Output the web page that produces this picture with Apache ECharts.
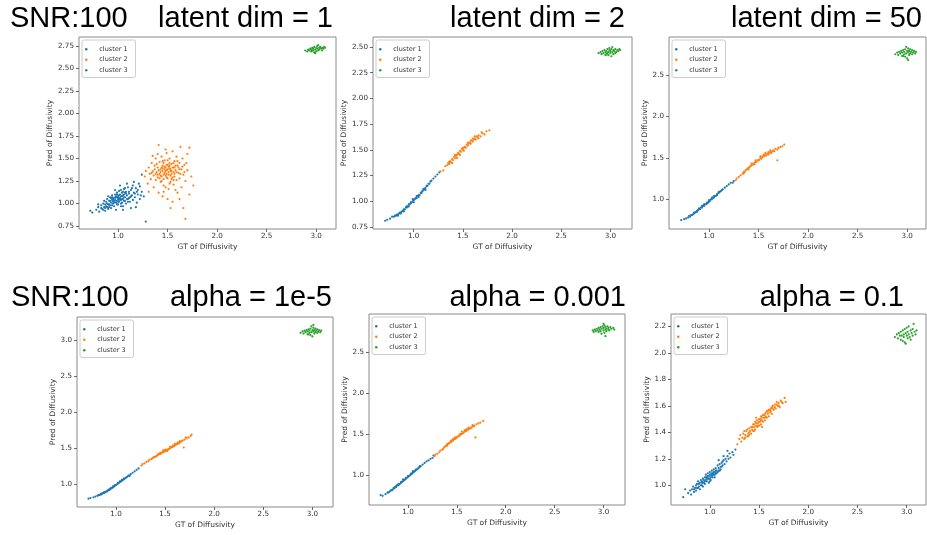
<!DOCTYPE html>
<html><head><meta charset="utf-8">
<script src="https://cdn.jsdelivr.net/npm/echarts@6/dist/echarts.min.js"></script>
<style>html,body{margin:0;padding:0;background:#fff}#c{width:927px;height:535px}</style>
</head><body><div id="c"></div>
<script>
// ---- text ----
const seriesNames = ['cluster 1','cluster 2','cluster 3'];
const rowLeftTitle = 'SNR:100';
const panelTitles = ['latent dim = 1','latent dim = 2','latent dim = 50','alpha = 1e-5','alpha = 0.001','alpha = 0.1'];
const xName = 'GT of Diffusivity';
const yName = 'Pred of Diffusivity';
// ---- ticks ----
const xTicks = [1.0,1.5,2.0,2.5,3.0];
const yTicksP1 = [0.75,1.0,1.25,1.5,1.75,2.0,2.25,2.5,2.75];
const yTicksP2 = [0.75,1.0,1.25,1.5,1.75,2.0,2.25,2.5];
const yTicksP3 = [1.0,1.5,2.0,2.5];
const yTicksP4 = [1.0,1.5,2.0,2.5,3.0];
const yTicksP5 = [1.0,1.5,2.0,2.5];
const yTicksP6 = [1.0,1.2,1.4,1.6,1.8,2.0,2.2];
// ---- data: panel 1 (latent dim = 1) ----
const p1c1 = [[0.72,0.92],[0.74,0.90],[0.78,0.93],[0.80,0.96],[0.81,0.91],[0.83,0.98],[0.84,0.94],[0.85,1.00],[0.86,0.96],[0.87,0.92],[0.88,1.02],[0.88,0.97],[0.89,1.05],[0.90,0.99],[0.90,0.94],[0.91,1.03],[0.92,1.07],[0.92,0.98],[0.93,1.01],[0.93,0.95],[0.94,1.04],[0.94,1.09],[0.95,1.00],[0.95,1.06],[0.96,0.97],[0.96,1.03],[0.97,1.10],[0.97,1.05],[0.98,1.01],[0.98,0.93],[0.99,1.07],[0.99,1.12],[1.00,1.04],[1.00,0.99],[1.00,1.08],[1.01,1.02],[1.01,1.14],[1.02,1.06],[1.02,1.10],[1.03,1.00],[1.03,1.04],[1.04,1.08],[1.04,1.12],[1.05,1.05],[1.05,0.97],[1.06,1.10],[1.06,1.16],[1.07,1.03],[1.07,1.07],[1.08,1.13],[1.08,1.00],[1.09,1.09],[1.10,1.05],[1.10,1.18],[1.11,1.11],[1.12,1.02],[1.12,1.07],[1.13,1.15],[1.14,1.09],[1.15,1.20],[1.15,1.04],[1.16,1.12],[1.17,1.07],[1.18,1.17],[1.19,1.01],[1.20,1.10],[1.21,1.22],[1.22,1.05],[1.24,1.13],[1.26,1.08],[1.28,0.80],[1.05,0.93],[0.97,1.15],[1.09,1.22],[1.13,0.95],[0.90,1.08],[1.02,1.20],[1.16,1.24],[0.86,1.03],[1.18,0.96],[1.24,1.32],[0.95,1.02],[1.00,1.06],[1.04,1.01],[0.98,1.08],[1.07,1.12],[0.93,1.06],[1.11,1.06],[0.89,1.00],[1.03,1.15],
  [0.83,0.95],[0.85,0.93],[0.87,0.99],[0.89,0.96],[0.91,0.99],[0.92,1.03],[0.94,0.98],[0.95,1.04],[0.96,1.01],[0.97,1.07],[0.98,1.03],[0.99,0.99],[1.00,1.02],[1.01,1.06],[1.01,1.09],[1.02,1.04],[1.03,1.08],[1.04,1.05],[1.05,1.09],[1.06,1.07],[1.06,1.03],[1.08,1.11],[1.09,1.05],[1.11,1.13],[1.13,1.08],[1.14,1.17],[1.17,1.11],[1.20,1.15],[1.22,1.19],[0.99,1.10],[1.05,1.13],[0.94,1.07],[1.03,0.97],[0.91,0.96],[1.10,1.02],[0.80,0.99],[0.87,0.95],[1.19,1.13],[1.23,1.09],[1.07,1.17]];
const p1c2 = [[1.27,1.30],[1.28,1.36],[1.30,1.22],[1.31,1.40],[1.32,1.33],[1.33,1.27],[1.34,1.45],[1.35,1.36],[1.36,1.18],[1.36,1.31],[1.37,1.42],[1.38,1.26],[1.38,1.50],[1.39,1.35],[1.40,1.29],[1.40,1.40],[1.41,1.65],[1.41,1.12],[1.42,1.33],[1.42,1.46],[1.43,1.38],[1.43,1.24],[1.44,1.30],[1.44,1.52],[1.45,1.36],[1.45,1.42],[1.46,1.27],[1.46,1.20],[1.47,1.34],[1.47,1.48],[1.48,1.40],[1.48,1.31],[1.49,1.37],[1.49,1.56],[1.50,1.28],[1.50,1.43],[1.50,1.05],[1.51,1.35],[1.51,1.16],[1.52,1.39],[1.52,1.50],[1.53,1.31],[1.53,1.24],[1.54,1.44],[1.54,1.36],[1.55,1.58],[1.55,1.29],[1.56,1.40],[1.56,1.21],[1.57,1.33],[1.57,1.47],[1.58,1.37],[1.59,1.26],[1.59,1.52],[1.60,1.42],[1.60,1.12],[1.61,1.34],[1.62,1.45],[1.62,1.28],[1.63,1.63],[1.64,1.38],[1.64,1.18],[1.65,1.50],[1.66,1.32],[1.66,0.95],[1.67,1.43],[1.68,0.83],[1.68,1.25],[1.70,1.55],[1.70,1.37],[1.72,1.62],[1.72,1.10],[1.74,1.30],[1.76,1.20],[1.53,0.95],[1.45,1.08],[1.55,1.02],[1.48,1.60],[1.35,1.53],[1.31,1.13],[1.58,1.15],[1.62,1.05],[1.40,1.55],[1.46,1.13],[1.52,1.45],[1.44,1.40],[1.49,1.33],[1.56,1.35],[1.51,1.41],[1.47,1.38],[1.53,1.36],[1.43,1.31],
  [1.38,1.33],[1.41,1.37],[1.43,1.35],[1.45,1.39],[1.46,1.32],[1.47,1.41],[1.48,1.36],[1.49,1.29],[1.50,1.38],[1.51,1.32],[1.52,1.42],[1.53,1.38],[1.54,1.33],[1.55,1.40],[1.56,1.45],[1.57,1.30],[1.58,1.42],[1.59,1.35],[1.61,1.40],[1.63,1.33],[1.46,1.45],[1.50,1.48],[1.44,1.25],[1.54,1.27],[1.39,1.44],[1.60,1.47],[1.65,1.41],[1.42,1.28],[1.34,1.34],[1.67,1.35],[1.52,1.22],[1.48,1.18],[1.57,1.40],[1.45,1.47],[1.62,1.38],[1.37,1.38],[1.40,1.32],[1.69,1.45],[1.56,1.26],[1.49,1.43]];
const p1c3 = [[2.89,2.70],[2.91,2.69],[2.92,2.71],[2.93,2.70],[2.94,2.72],[2.95,2.69],[2.95,2.71],[2.96,2.73],[2.97,2.70],[2.97,2.72],[2.98,2.68],[2.98,2.74],[2.99,2.71],[3.00,2.73],[3.00,2.69],[3.01,2.72],[3.01,2.75],[3.02,2.70],[3.03,2.73],[3.03,2.71],[3.04,2.74],[3.05,2.72],[3.06,2.70],[3.06,2.73],[3.07,2.72],[3.08,2.74],[3.09,2.73],[2.99,2.67],[3.02,2.76],[2.96,2.70]];
// ---- data: panel 2 (latent dim = 2) ----
const p2c1 = [[0.71,0.81],[0.73,0.82],[0.76,0.83],[0.78,0.85],[0.80,0.85],[0.81,0.86],[0.82,0.86],[0.83,0.87],[0.84,0.87],[0.85,0.88],[0.86,0.89],[0.87,0.89],[0.88,0.90],[0.89,0.91],[0.90,0.92],[0.91,0.92],[0.92,0.94],[0.93,0.94],[0.94,0.95],[0.95,0.97],[0.96,0.97],[0.97,0.98],[0.98,0.99],[0.99,1.00],[1.00,1.01],[1.01,1.02],[1.02,1.03],[1.03,1.03],[1.04,1.05],[1.05,1.06],[1.06,1.06],[1.07,1.08],[1.08,1.09],[1.09,1.10],[1.10,1.11],[1.11,1.12],[1.12,1.13],[1.13,1.15],[1.14,1.15],[1.15,1.17],[1.16,1.17],[1.17,1.19],[1.18,1.20],[1.20,1.22],[1.22,1.24],[1.24,1.26],[1.26,1.28],[0.90,0.90],[0.95,0.95],[1.00,0.99],[1.05,1.04],[0.87,0.88],[0.97,0.99],[1.03,1.05],[1.10,1.12],[0.93,0.95],[1.08,1.08],[0.84,0.86],[0.99,1.02],[1.12,1.11]];
const p2c2 = [[1.27,1.29],[1.30,1.30],[1.32,1.34],[1.34,1.35],[1.35,1.37],[1.36,1.36],[1.37,1.39],[1.38,1.38],[1.39,1.41],[1.40,1.40],[1.41,1.43],[1.42,1.42],[1.43,1.44],[1.44,1.45],[1.45,1.47],[1.46,1.46],[1.47,1.49],[1.48,1.48],[1.49,1.51],[1.50,1.50],[1.51,1.52],[1.52,1.53],[1.53,1.52],[1.54,1.55],[1.55,1.54],[1.56,1.56],[1.57,1.57],[1.58,1.56],[1.59,1.59],[1.60,1.58],[1.61,1.60],[1.62,1.61],[1.63,1.60],[1.64,1.63],[1.65,1.62],[1.66,1.64],[1.68,1.63],[1.70,1.66],[1.72,1.65],[1.74,1.68],[1.77,1.69],[1.39,1.37],[1.44,1.42],[1.47,1.45],[1.51,1.49],[1.55,1.57],[1.58,1.59],[1.62,1.63],[1.42,1.45],[1.36,1.38],[1.50,1.52],[1.60,1.61],[1.66,1.61],[1.69,1.67]];
const p2c3 = [[2.88,2.44],[2.90,2.45],[2.91,2.43],[2.92,2.46],[2.93,2.44],[2.94,2.47],[2.95,2.45],[2.95,2.42],[2.96,2.46],[2.97,2.44],[2.97,2.48],[2.98,2.45],[2.98,2.42],[2.99,2.47],[3.00,2.44],[3.00,2.46],[3.01,2.41],[3.01,2.48],[3.02,2.45],[3.03,2.47],[3.03,2.43],[3.04,2.46],[3.05,2.44],[3.05,2.48],[3.06,2.45],[3.07,2.47],[3.08,2.46],[3.09,2.48],[3.10,2.47],[2.99,2.49],[3.02,2.50],[2.96,2.43]];
// ---- data: panel 3 (latent dim = 50) ----
const p3c1 = [[0.72,0.75],[0.75,0.76],[0.77,0.77],[0.79,0.78],[0.80,0.80],[0.81,0.79],[0.82,0.81],[0.83,0.81],[0.84,0.82],[0.85,0.83],[0.86,0.84],[0.87,0.85],[0.88,0.86],[0.89,0.87],[0.90,0.88],[0.91,0.88],[0.92,0.90],[0.93,0.90],[0.94,0.92],[0.95,0.92],[0.96,0.94],[0.97,0.94],[0.98,0.96],[0.99,0.96],[1.00,0.97],[1.01,0.98],[1.02,1.00],[1.03,1.00],[1.04,1.02],[1.05,1.02],[1.06,1.04],[1.07,1.04],[1.08,1.06],[1.09,1.07],[1.10,1.08],[1.11,1.09],[1.12,1.10],[1.13,1.11],[1.14,1.12],[1.16,1.14],[1.18,1.16],[1.20,1.18],[1.22,1.20],[1.25,1.22],[0.90,0.89],[0.95,0.94],[1.00,0.99],[1.05,1.04],[0.88,0.85],[0.98,0.95],[1.03,1.02],[1.10,1.09],[0.93,0.92],[1.08,1.05],[0.85,0.84],[1.24,1.20]];
const p3c2 = [[1.27,1.23],[1.28,1.25],[1.30,1.27],[1.32,1.29],[1.34,1.31],[1.35,1.33],[1.36,1.33],[1.37,1.35],[1.38,1.36],[1.39,1.37],[1.40,1.38],[1.41,1.39],[1.42,1.40],[1.43,1.41],[1.44,1.42],[1.45,1.43],[1.46,1.44],[1.47,1.45],[1.48,1.45],[1.49,1.47],[1.50,1.47],[1.51,1.48],[1.52,1.50],[1.53,1.49],[1.54,1.51],[1.55,1.52],[1.56,1.52],[1.57,1.54],[1.58,1.53],[1.59,1.55],[1.60,1.54],[1.61,1.56],[1.62,1.57],[1.63,1.56],[1.64,1.58],[1.65,1.59],[1.66,1.58],[1.67,1.61],[1.69,1.60],[1.70,1.62],[1.72,1.63],[1.74,1.64],[1.76,1.66],[1.69,1.47],[1.43,1.43],[1.47,1.47],[1.52,1.52],[1.57,1.56],[1.62,1.59],[1.40,1.36],[1.46,1.42],[1.55,1.54],[1.60,1.57],[1.35,1.31]];
const p3c3 = [[2.88,2.75],[2.90,2.77],[2.91,2.74],[2.92,2.78],[2.93,2.76],[2.94,2.79],[2.95,2.73],[2.95,2.77],[2.96,2.80],[2.97,2.75],[2.97,2.78],[2.98,2.72],[2.98,2.81],[2.99,2.76],[3.00,2.79],[3.00,2.70],[3.01,2.77],[3.01,2.82],[3.02,2.74],[3.02,2.79],[3.03,2.76],[3.03,2.81],[3.04,2.78],[3.05,2.75],[3.05,2.80],[3.06,2.77],[3.07,2.79],[3.08,2.76],[3.09,2.78],[2.99,2.84],[3.01,2.68],[2.96,2.73]];
// ---- data: panel 4 (alpha = 1e-5) ----
const p4c1 = [[0.72,0.80],[0.74,0.81],[0.77,0.82],[0.79,0.83],[0.81,0.84],[0.82,0.85],[0.83,0.85],[0.84,0.86],[0.85,0.87],[0.86,0.87],[0.87,0.88],[0.88,0.89],[0.89,0.89],[0.90,0.90],[0.91,0.91],[0.92,0.92],[0.93,0.92],[0.94,0.93],[0.95,0.94],[0.96,0.95],[0.97,0.96],[0.98,0.97],[0.99,0.98],[1.00,0.99],[1.01,1.00],[1.02,1.01],[1.03,1.02],[1.04,1.03],[1.05,1.04],[1.06,1.05],[1.07,1.06],[1.08,1.07],[1.09,1.08],[1.10,1.09],[1.11,1.10],[1.12,1.11],[1.14,1.12],[1.15,1.14],[1.17,1.16],[1.19,1.18],[1.21,1.20],[1.23,1.22],[0.88,0.88],[0.93,0.93],[0.97,0.97],[1.02,1.02],[1.06,1.06],[0.91,0.90],[0.99,0.99],[1.08,1.08],[0.85,0.86],[0.95,0.95],[1.04,1.04],[1.13,1.12]];
const p4c2 = [[1.26,1.26],[1.27,1.28],[1.29,1.29],[1.31,1.31],[1.33,1.32],[1.34,1.34],[1.36,1.35],[1.37,1.36],[1.38,1.37],[1.39,1.38],[1.40,1.38],[1.41,1.39],[1.42,1.40],[1.43,1.41],[1.44,1.42],[1.45,1.42],[1.46,1.43],[1.47,1.44],[1.48,1.45],[1.49,1.45],[1.50,1.46],[1.51,1.47],[1.52,1.48],[1.53,1.48],[1.54,1.49],[1.55,1.50],[1.56,1.51],[1.57,1.52],[1.58,1.52],[1.59,1.53],[1.60,1.54],[1.61,1.55],[1.62,1.56],[1.63,1.56],[1.64,1.57],[1.65,1.58],[1.66,1.59],[1.67,1.60],[1.68,1.61],[1.70,1.62],[1.72,1.64],[1.74,1.65],[1.76,1.67],[1.77,1.69],[1.69,1.51],[1.45,1.44],[1.50,1.48],[1.55,1.52],[1.60,1.56],[1.65,1.60],[1.48,1.47],[1.58,1.54],[1.63,1.58],[1.71,1.65],[1.43,1.42],[1.52,1.46]];
const p4c3 = [[2.88,3.10],[2.90,3.12],[2.91,3.09],[2.92,3.13],[2.93,3.11],[2.94,3.14],[2.95,3.08],[2.95,3.12],[2.96,3.15],[2.97,3.10],[2.97,3.13],[2.98,3.07],[2.98,3.16],[2.99,3.11],[3.00,3.14],[3.00,3.05],[3.01,3.12],[3.01,3.17],[3.02,3.09],[3.02,3.14],[3.03,3.11],[3.03,3.16],[3.04,3.13],[3.05,3.10],[3.05,3.15],[3.06,3.12],[3.07,3.14],[3.08,3.11],[3.09,3.13],[2.99,3.19],[3.01,3.21],[2.96,3.08]];
// ---- data: panel 5 (alpha = 0.001) ----
const p5c1 = [[0.72,0.76],[0.74,0.75],[0.77,0.77],[0.79,0.79],[0.80,0.79],[0.81,0.80],[0.82,0.81],[0.83,0.82],[0.84,0.82],[0.85,0.84],[0.86,0.84],[0.87,0.86],[0.88,0.86],[0.89,0.88],[0.90,0.88],[0.91,0.89],[0.92,0.90],[0.93,0.91],[0.94,0.92],[0.95,0.93],[0.96,0.94],[0.97,0.95],[0.98,0.96],[0.99,0.97],[1.00,0.98],[1.01,0.99],[1.02,1.00],[1.03,1.01],[1.04,1.02],[1.05,1.03],[1.06,1.04],[1.07,1.05],[1.08,1.06],[1.09,1.07],[1.10,1.08],[1.11,1.09],[1.12,1.10],[1.13,1.11],[1.15,1.13],[1.17,1.15],[1.19,1.17],[1.21,1.18],[1.23,1.20],[1.25,1.21],[0.88,0.87],[0.93,0.92],[0.98,0.97],[1.03,1.02],[1.08,1.07],[0.90,0.89],[0.95,0.95],[1.00,0.99],[1.05,1.05],[1.12,1.11],[0.86,0.85],[1.26,1.24]];
const p5c2 = [[1.27,1.23],[1.28,1.25],[1.30,1.26],[1.32,1.28],[1.33,1.30],[1.35,1.31],[1.36,1.32],[1.37,1.34],[1.38,1.35],[1.39,1.36],[1.40,1.36],[1.41,1.38],[1.42,1.39],[1.43,1.40],[1.44,1.40],[1.45,1.42],[1.46,1.42],[1.47,1.44],[1.48,1.44],[1.49,1.45],[1.50,1.46],[1.51,1.47],[1.52,1.48],[1.53,1.48],[1.54,1.50],[1.55,1.50],[1.56,1.51],[1.57,1.52],[1.58,1.53],[1.59,1.54],[1.60,1.54],[1.61,1.55],[1.62,1.56],[1.63,1.57],[1.64,1.57],[1.65,1.58],[1.66,1.59],[1.67,1.60],[1.68,1.60],[1.70,1.62],[1.72,1.63],[1.74,1.64],[1.77,1.66],[1.69,1.46],[1.44,1.42],[1.48,1.46],[1.53,1.50],[1.58,1.55],[1.62,1.58],[1.40,1.38],[1.46,1.44],[1.55,1.53],[1.60,1.56],[1.66,1.61]];
const p5c3 = [[2.89,2.76],[2.90,2.74],[2.91,2.77],[2.92,2.75],[2.93,2.78],[2.94,2.76],[2.95,2.79],[2.95,2.74],[2.96,2.77],[2.97,2.80],[2.97,2.75],[2.98,2.78],[2.98,2.72],[2.99,2.81],[3.00,2.76],[3.00,2.79],[3.01,2.73],[3.01,2.82],[3.02,2.77],[3.02,2.80],[3.03,2.75],[3.03,2.78],[3.04,2.81],[3.05,2.77],[3.05,2.79],[3.06,2.76],[3.07,2.80],[3.08,2.78],[3.10,2.79],[3.11,2.77],[3.00,2.84],[3.02,2.69]];
// ---- data: panel 6 (alpha = 0.1) ----
const p6c1 = [[0.73,0.91],[0.75,0.97],[0.78,0.94],[0.80,0.96],[0.81,0.93],[0.82,0.97],[0.83,0.99],[0.84,0.95],[0.85,0.98],[0.86,1.00],[0.86,0.96],[0.87,1.01],[0.88,0.98],[0.88,1.03],[0.89,0.99],[0.90,1.02],[0.90,0.97],[0.91,1.04],[0.92,1.00],[0.92,1.03],[0.93,1.05],[0.93,0.99],[0.94,1.02],[0.95,1.06],[0.95,1.01],[0.96,1.04],[0.96,1.08],[0.97,1.03],[0.97,1.06],[0.98,1.05],[0.98,1.09],[0.99,1.02],[0.99,1.07],[1.00,1.05],[1.00,1.10],[1.01,1.08],[1.01,1.04],[1.02,1.07],[1.02,1.11],[1.03,1.06],[1.03,1.09],[1.04,1.12],[1.04,1.08],[1.05,1.10],[1.05,1.06],[1.06,1.13],[1.06,1.09],[1.07,1.11],[1.08,1.15],[1.08,1.10],[1.09,1.13],[1.10,1.16],[1.10,1.11],[1.11,1.14],[1.12,1.17],[1.13,1.15],[1.14,1.19],[1.15,1.16],[1.16,1.20],[1.17,1.18],[1.18,1.22],[1.19,1.20],[1.20,1.24],[1.21,1.21],[1.23,1.25],[1.24,1.23],[1.26,1.27],[1.14,1.22],[1.18,1.26],[1.09,1.19],
  [0.87,0.98],[0.89,1.01],[0.91,1.00],[0.92,1.02],[0.94,1.04],[0.95,1.03],[0.96,1.06],[0.97,1.05],[0.98,1.07],[0.99,1.05],[1.00,1.08],[1.01,1.06],[1.02,1.09],[1.03,1.08],[1.04,1.10],[1.05,1.08],[1.06,1.11],[1.07,1.09],[1.09,1.11],[1.11,1.12],[1.12,1.14],[1.13,1.18],[0.84,0.97],[0.93,1.02],[1.00,1.03]];
const p6c2 = [[1.28,1.31],[1.30,1.35],[1.31,1.38],[1.32,1.33],[1.33,1.36],[1.34,1.39],[1.35,1.35],[1.36,1.38],[1.37,1.41],[1.38,1.37],[1.38,1.42],[1.39,1.39],[1.40,1.43],[1.40,1.38],[1.41,1.41],[1.42,1.44],[1.42,1.39],[1.43,1.42],[1.44,1.46],[1.44,1.41],[1.45,1.44],[1.46,1.48],[1.46,1.42],[1.47,1.45],[1.48,1.49],[1.48,1.44],[1.49,1.47],[1.50,1.50],[1.50,1.45],[1.51,1.48],[1.52,1.52],[1.52,1.46],[1.53,1.49],[1.54,1.53],[1.54,1.48],[1.55,1.51],[1.56,1.54],[1.56,1.49],[1.57,1.52],[1.58,1.56],[1.58,1.51],[1.59,1.54],[1.60,1.57],[1.60,1.52],[1.61,1.55],[1.62,1.58],[1.63,1.54],[1.64,1.60],[1.65,1.57],[1.66,1.61],[1.67,1.58],[1.68,1.63],[1.69,1.60],[1.70,1.62],[1.71,1.59],[1.72,1.64],[1.74,1.62],[1.76,1.66],[1.77,1.63],[1.53,1.44],[1.47,1.51],[1.35,1.41],
  [1.40,1.40],[1.43,1.44],[1.45,1.46],[1.47,1.47],[1.49,1.45],[1.50,1.48],[1.51,1.50],[1.53,1.51],[1.55,1.53],[1.56,1.51],[1.57,1.55],[1.59,1.56],[1.61,1.57],[1.62,1.56],[1.63,1.59],[1.64,1.58],[1.66,1.59],[1.68,1.61],[1.45,1.41],[1.52,1.49],[1.70,1.60],[1.73,1.63],[1.39,1.37],[1.36,1.36]];
const p6c3 = [[2.88,2.12],[2.90,2.14],[2.91,2.11],[2.92,2.15],[2.93,2.13],[2.94,2.16],[2.94,2.10],[2.95,2.13],[2.96,2.17],[2.96,2.09],[2.97,2.14],[2.97,2.12],[2.98,2.18],[2.98,2.08],[2.99,2.15],[3.00,2.13],[3.00,2.19],[3.01,2.11],[3.01,2.16],[3.02,2.14],[3.02,2.20],[3.03,2.12],[3.04,2.17],[3.04,2.10],[3.05,2.15],[3.06,2.13],[3.06,2.18],[3.07,2.22],[3.08,2.16],[3.09,2.14],[3.10,2.17],[2.99,2.07]];

// ---- layout (pixels / axis extents) ----
const panels = [
  {left:79, top:37, width:257, height:192, xmin:0.606, xmax:3.20, ymin:0.717, ymax:2.85, yt:yTicksP1, yd:2, data:[p1c1,p1c2,p1c3]},
  {left:373, top:37, width:259, height:192, xmin:0.586, xmax:3.22, ymin:0.73, ymax:2.597, yt:yTicksP2, yd:2, data:[p2c1,p2c2,p2c3]},
  {left:669, top:37, width:257, height:192, xmin:0.597, xmax:3.19, ymin:0.642, ymax:2.958, yt:yTicksP3, yd:1, data:[p3c1,p3c2,p3c3]},
  {left:77, top:317, width:256, height:190, xmin:0.603, xmax:3.21, ymin:0.685, ymax:3.32, yt:yTicksP4, yd:1, data:[p4c1,p4c2,p4c3]},
  {left:369, top:314, width:256, height:191, xmin:0.601, xmax:3.22, ymin:0.639, ymax:2.959, yt:yTicksP5, yd:1, data:[p5c1,p5c2,p5c3]},
  {left:671, top:314, width:255, height:191, xmin:0.606, xmax:3.196, ymin:0.851, ymax:2.294, yt:yTicksP6, yd:1, data:[p6c1,p6c2,p6c3]}
];
const colors = ['#1f77b4','#ff7f0e','#2ca02c'];
const tickFont = 'DejaVu Sans';

const grid = [], xAxis = [], yAxis = [], series = [], legend = [];
panels.forEach((p, i) => {
  grid.push({left:p.left, top:p.top, width:p.width, height:p.height, show:true, borderColor:'#8a8a8a', borderWidth:1, backgroundColor:'#fff', containLabel:false});
  xAxis.push({gridIndex:i, type:'value', min:p.xmin, max:p.xmax,
    axisLine:{show:false}, splitLine:{show:false},
    axisTick:{show:true, length:3, lineStyle:{color:'#666'}, customValues:xTicks},
    axisLabel:{customValues:xTicks, formatter:v=>v.toFixed(1), fontSize:7.2, color:'#333', margin:4, fontFamily:tickFont},
    name:xName, nameLocation:'middle', nameGap:14, nameTextStyle:{fontSize:7.5, color:'#333', fontFamily:tickFont}});
  yAxis.push({gridIndex:i, type:'value', min:p.ymin, max:p.ymax,
    axisLine:{show:false}, splitLine:{show:false},
    axisTick:{show:true, length:3, lineStyle:{color:'#666'}, customValues:p.yt},
    axisLabel:{customValues:p.yt, formatter:v=>v.toFixed(p.yd), fontSize:7.2, color:'#333', margin:5, fontFamily:tickFont},
    name:yName, nameLocation:'middle', nameGap:p.yd===2?24:18, nameTextStyle:{fontSize:7.5, color:'#333', fontFamily:tickFont}});
  p.data.forEach((d, k) => {
    series.push({type:'scatter', name:seriesNames[k], xAxisIndex:i, yAxisIndex:i, data:d,
      symbol:'circle', symbolSize:2.2, itemStyle:{color:colors[k], opacity:1}, silent:true, z:2+k});
  });
  legend.push({data:seriesNames, orient:'vertical', left:p.left+3, top:p.top+3, icon:'circle',
    itemWidth:16, itemHeight:2.5, itemGap:0, padding:[4,8,2,3],
    backgroundColor:'#fff', borderColor:'#cccccc', borderWidth:1, borderRadius:2,
    textStyle:{fontSize:6.5, lineHeight:10.5, color:'#333', fontFamily:tickFont}, selectedMode:false});
});

function title(text, x, y, align){
  return {type:'text', x:x, y:y, z:100, style:{text:text, font:'29px "Liberation Sans", Arial, sans-serif', fill:'#000', textAlign:align, align:align, textVerticalAlign:'middle', verticalAlign:'middle'}};
}
const graphic = [
  title(rowLeftTitle, 10, 19, 'left'),
  title(panelTitles[0], 333, 19, 'right'),
  title(panelTitles[1], 625, 19, 'right'),
  title(panelTitles[2], 922, 19, 'right'),
  title(rowLeftTitle, 11, 298, 'left'),
  title(panelTitles[3], 332, 298, 'right'),
  title(panelTitles[4], 626, 298, 'right'),
  title(panelTitles[5], 904, 298, 'right')
];

const chart = echarts.init(document.getElementById('c'), null, {renderer:'canvas'});
chart.setOption({animation:false, backgroundColor:'#fff', grid, xAxis, yAxis, series, legend, graphic});
</script></body></html>
